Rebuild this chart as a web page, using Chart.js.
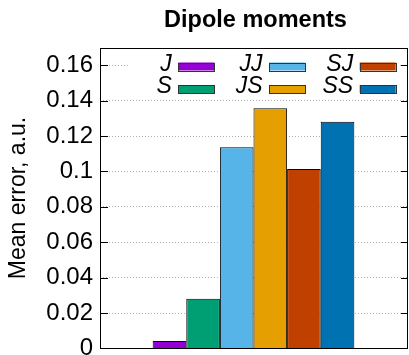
<!DOCTYPE html>
<html>
<head>
<meta charset="utf-8">
<script src="https://cdn.jsdelivr.net/npm/chart.js@4.4.1/dist/chart.umd.min.js"></script>
<style>
  html, body { margin: 0; padding: 0; background: #fff; overflow: hidden; }
  #wrap { width: 409px; height: 355px; overflow: hidden; }
  canvas { display: block; }
</style>
</head>
<body>
<div id="wrap"><canvas id="c" width="409" height="380"></canvas></div>
<script>
// ---- data ----
const categories = [''];
const seriesNames = ['J', 'S', 'JJ', 'JS', 'SJ', 'SS'];
const seriesValues = [0.0042, 0.028, 0.1137, 0.1357, 0.1014, 0.128];
const seriesColors = ['#9400d3', '#009e73', '#56b4e9', '#e69f00', '#c04000', '#0072b2'];
const yTicks = [0, 0.02, 0.04, 0.06, 0.08, 0.1, 0.12, 0.14, 0.16];
const titleText = 'Dipole moments';
const yTitle = 'Mean error, a.u.';

const FONT = "'Liberation Sans', Arial, Helvetica, sans-serif";

const datasets = seriesNames.map((n, i) => ({
  label: n,
  data: [seriesValues[i]],
  backgroundColor: seriesColors[i],
  borderColor: '#000',
  borderWidth: 1,
  borderSkipped: 'bottom'
}));

const framePlugin = {
  id: 'frame',
  afterDraw(chart) {
    const ctx = chart.ctx;
    const a = chart.chartArea;
    const ys = chart.scales.y;
    ctx.save();
    // title centred over plot area
    ctx.fillStyle = '#000';
    ctx.font = "bold 23.5px " + FONT;
    ctx.textAlign = 'center';
    ctx.textBaseline = 'alphabetic';
    ctx.fillText(titleText, (a.left + a.right) / 2 + 2, a.top - 21);
    // legend background + entries
    const colW = 90.7, swW = 36, swH = 8, rowH = 22.5;
    const col0SwRight = a.right - 11.3 - 2 * colW;
    const row0Base = a.top + 23;
    ctx.fillStyle = '#fff';
    ctx.fillRect(a.left + 30, a.top + 1, a.right - a.left - 37, 48);
    ctx.font = "italic 23px " + FONT;
    ctx.textAlign = 'right';
    chart.data.datasets.forEach((ds, i) => {
      const col = Math.floor(i / 2), row = i % 2;
      const swR = col0SwRight + col * colW;
      const base = row0Base + row * rowH;
      const swL = swR - swW;
      ctx.fillStyle = '#000';
      ctx.fillText(ds.label, swL - 6.5, base);
      ctx.fillStyle = ds.backgroundColor;
      ctx.fillRect(swL, base - swH, swW, swH);
      ctx.strokeStyle = '#333';
      ctx.lineWidth = 1;
      ctx.strokeRect(Math.round(swL) + 0.5, Math.round(base - swH) + 0.5, swW, swH);
    });
    // ticks on both sides
    ctx.strokeStyle = '#000';
    ctx.lineWidth = 1;
    ctx.beginPath();
    yTicks.forEach(v => {
      const y = Math.round(ys.getPixelForValue(v)) + 0.5;
      ctx.moveTo(a.left, y); ctx.lineTo(a.left + 8, y);
      ctx.moveTo(a.right - 6, y); ctx.lineTo(a.right, y);
    });
    ctx.stroke();
    // frame
    ctx.strokeRect(Math.round(a.left) + 0.5, Math.round(a.top) + 0.5,
      Math.round(a.right) - Math.round(a.left), Math.round(a.bottom) - Math.round(a.top));
    ctx.restore();
  }
};

new Chart(document.getElementById('c'), {
  type: 'bar',
  data: { labels: categories, datasets },
  options: {
    responsive: false,
    animation: false,
    devicePixelRatio: 1,
    categoryPercentage: 0.657,
    barPercentage: 1,
    layout: { padding: { left: 0, right: 2, top: 47.5, bottom: 23.6 } },
    plugins: {
      legend: { display: false },
      tooltip: { enabled: false },
      title: { display: false }
    },
    scales: {
      x: {
        grid: { display: false },
        ticks: { display: false },
        border: { display: false }
      },
      y: {
        min: 0,
        max: 0.17,
        afterFit(scale) { scale.width = 100; },
        ticks: {
          stepSize: 0.02,
          includeBounds: false,
          color: '#000',
          padding: 7,
          font: { family: FONT, size: 24 },
          callback: v => String(Number(v.toFixed(2)))
        },
        grid: {
          color: '#b4b4b4',
          lineWidth: 1,
          drawTicks: false,
          tickLength: 0
        },
        border: { display: false, dash: [1, 2] },
        title: {
          display: true,
          text: yTitle,
          color: '#000',
          font: { family: FONT, size: 23, lineHeight: 1.2 },
          padding: { top: 5, bottom: 0 }
        }
      }
    }
  },
  plugins: [framePlugin]
});
</script>
</body>
</html>
